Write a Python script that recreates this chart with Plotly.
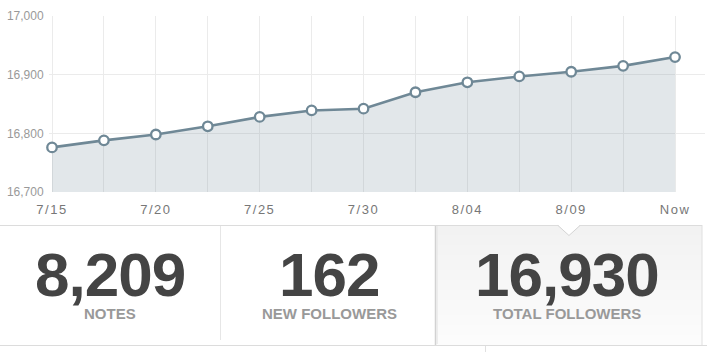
import plotly.graph_objects as go

W, H = 707, 352

# ---- data ----
tick_labels = ["7/15", "7/20", "7/25", "7/30", "8/04", "8/09", "Now"]
followers = [16776, 16788, 16798, 16812, 16828, 16839, 16842,
             16870, 16887, 16897, 16905, 16915, 16930]
y_ticks = [16700, 16800, 16900, 17000]
stat_values = ["8,209", "162", "16,930"]
stat_labels = ["NOTES", "NEW FOLLOWERS", "TOTAL FOLLOWERS"]

x = list(range(len(followers)))


def px(v):
    return v / W


def py(v):
    return 1 - v / H


LINE = "#6f8896"

# tick texts: label every other point, blank in between (grid on every point)
ticktext = []
for i in x:
    if i % 2 == 0:
        ticktext.append('<span style="letter-spacing:1.5px">%s</span>' % tick_labels[i // 2])
    else:
        ticktext.append("")

fig = go.Figure()
fig.add_trace(go.Scatter(
    x=x, y=followers, mode="lines+markers",
    fill="tozeroy", fillcolor="rgba(110,135,150,0.2)",
    line=dict(color=LINE, width=2.6),
    marker=dict(size=9.5, color="white", line=dict(color=LINE, width=2.3)),
    hoverinfo="skip", cliponaxis=False,
))

shapes = []
# selected box gradient strips
top, bot = 225, 345
n = 24
c0, c1 = 242, 252
for k in range(n):
    y0 = top + (bot - top) * k / n
    y1 = top + (bot - top) * (k + 1) / n
    c = round(c0 + (c1 - c0) * k / (n - 1))
    shapes.append(dict(type="rect", xref="paper", yref="paper",
                       x0=px(435), x1=px(702), y0=py(y1), y1=py(y0),
                       fillcolor="rgb(%d,%d,%d)" % (c, c, c), line=dict(width=0), layer="below"))
# box borders
shapes.append(dict(type="line", xref="paper", yref="paper", x0=px(435.5), x1=px(435.5),
                   y0=py(225), y1=py(345), line=dict(color="#d2d2d2", width=1.5)))
shapes.append(dict(type="line", xref="paper", yref="paper", x0=px(437), x1=px(437),
                   y0=py(226), y1=py(344), line=dict(color="#e9e9e9", width=1.5)))
shapes.append(dict(type="line", xref="paper", yref="paper", x0=px(702), x1=px(702),
                   y0=py(225), y1=py(345), line=dict(color="#e0e0e0", width=1)))
# top border
shapes.append(dict(type="line", xref="paper", yref="paper", x0=0, x1=px(702),
                   y0=py(225.5), y1=py(225.5), line=dict(color="#dcdcdc", width=1)))
# notch
shapes.append(dict(type="path", xref="paper", yref="paper",
                   path="M %f,%f L %f,%f L %f,%f Z" % (px(558), py(225), px(569), py(235.5), px(580), py(225)),
                   fillcolor="white", line=dict(width=0)))
shapes.append(dict(type="path", xref="paper", yref="paper",
                   path="M %f,%f L %f,%f L %f,%f" % (px(558), py(225.5), px(569), py(235.5), px(580), py(225.5)),
                   line=dict(color="#d4d4d4", width=1)))
# divider between first two boxes
shapes.append(dict(type="line", xref="paper", yref="paper", x0=px(220.5), x1=px(220.5),
                   y0=py(226), y1=py(340), line=dict(color="#e6e6e6", width=1)))
# bottom border
shapes.append(dict(type="line", xref="paper", yref="paper", x0=0, x1=1,
                   y0=py(345.5), y1=py(345.5), line=dict(color="#dcdcdc", width=1.2)))
shapes.append(dict(type="line", xref="paper", yref="paper", x0=px(485.5), x1=px(485.5),
                   y0=py(346), y1=py(352), line=dict(color="#e0e0e0", width=1)))

annotations = []
centers = [110, 329, 567]
for cx, val, lab in zip(centers, stat_values, stat_labels):
    annotations.append(dict(
        xref="paper", yref="paper", x=px(cx), y=py(274), xanchor="center", yanchor="middle",
        text='<span style="letter-spacing:-1px">%s</span>' % val, showarrow=False,
        font=dict(family="Liberation Sans, Arial, sans-serif", size=62, color="#444444", weight=700)))
    annotations.append(dict(
        xref="paper", yref="paper", x=px(cx), y=py(313), xanchor="center", yanchor="middle",
        text=lab, showarrow=False,
        font=dict(family="Liberation Sans, Arial, sans-serif", size=15, color="#999999", weight=700)))

fig.update_layout(
    width=W, height=H,
    margin=dict(l=0, r=0, t=0, b=0, pad=0, autoexpand=False),
    paper_bgcolor="white", plot_bgcolor="white",
    showlegend=False,
    shapes=shapes, annotations=annotations,
    xaxis=dict(domain=[px(49), px(705)], range=[-0.058, 12.577], automargin=False,
               tickvals=x, ticktext=ticktext, showgrid=True, gridcolor="#ebebeb", gridwidth=1,
               zeroline=False, showline=False, ticks="outside", ticklen=5,
               tickcolor="rgba(0,0,0,0)", fixedrange=True,
               tickfont=dict(family="Liberation Sans, Arial, sans-serif", size=13, color="#777777")),
    yaxis=dict(domain=[py(192), py(16)], range=[16700, 17000], automargin=False,
               tickvals=y_ticks, tickformat=",d", showgrid=True, gridcolor="#ebebeb", gridwidth=1,
               zeroline=False, showline=False, ticks="outside", ticklen=2,
               tickcolor="rgba(0,0,0,0)", fixedrange=True,
               tickfont=dict(family="Liberation Sans, Arial, sans-serif", size=12, color="#999999")),
)

fig.write_html("out.html", config={"displayModeBar": False})
